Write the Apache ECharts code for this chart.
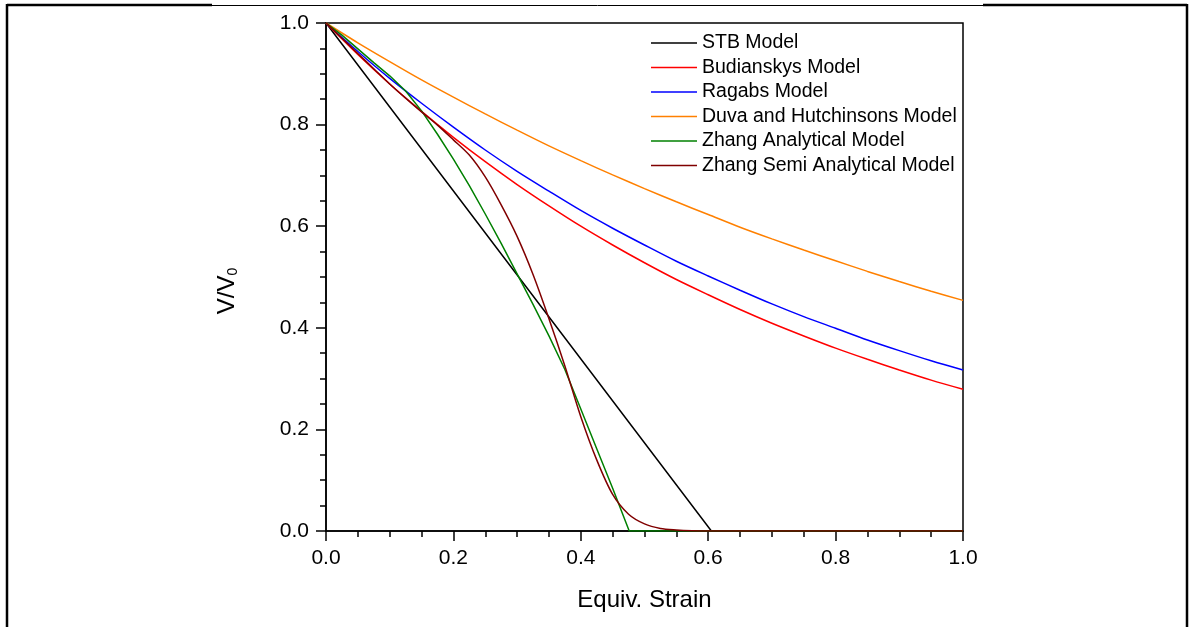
<!DOCTYPE html>
<html>
<head>
<meta charset="utf-8">
<title>V/V0 vs Equiv. Strain</title>
<script src="https://cdn.jsdelivr.net/npm/echarts@6/dist/echarts.min.js"></script>
<style>
  html, body { margin: 0; padding: 0; background: #ffffff; }
  #chart { width: 1189px; height: 627px; }
</style>
</head>
<body>
<div id="chart"></div>
<script>
// Volume fraction V/V0 versus equivalent strain for several models

const seriesNames = [
  'STB Model',
  'Budianskys Model',
  'Ragabs Model',
  'Duva and Hutchinsons Model',
  'Zhang Analytical Model',
  'Zhang Semi Analytical Model'
];

const seriesColors = ['#000000', '#ff0000', '#0000ff', '#ff8000', '#008000', '#800000'];

// STB model: straight drop to zero, then flat
const stbStrain = [0, 0.605, 1.0];
const stbV = [1, 0, 0];

// Common strain grid for the smooth decaying models
const strainGrid = [0, 0.05, 0.1, 0.15, 0.2, 0.25, 0.3, 0.35, 0.4, 0.45, 0.5,
                    0.55, 0.6, 0.65, 0.7, 0.75, 0.8, 0.85, 0.9, 0.95, 1.0];

const budianskyV = [1, 0.938, 0.880, 0.826, 0.775, 0.727, 0.682, 0.640, 0.600, 0.563, 0.528,
                    0.495, 0.465, 0.436, 0.409, 0.384, 0.360, 0.338, 0.317, 0.297, 0.279];

const ragabV = [1, 0.944, 0.891, 0.842, 0.795, 0.750, 0.708, 0.669, 0.631, 0.596, 0.563,
                0.531, 0.502, 0.474, 0.447, 0.422, 0.399, 0.376, 0.355, 0.335, 0.317];

const duvaV = [1, 0.961, 0.924, 0.888, 0.854, 0.821, 0.789, 0.758, 0.729, 0.701, 0.674,
               0.648, 0.623, 0.598, 0.575, 0.553, 0.532, 0.511, 0.491, 0.472, 0.454];

// Zhang analytical model
const zhangStrain = [0, 0.025, 0.05, 0.075, 0.1, 0.125, 0.15, 0.175, 0.2, 0.225, 0.25,
                     0.275, 0.3, 0.325, 0.35, 0.375, 0.4, 0.425, 0.45, 0.476, 1.0];
const zhangV = [1, 0.976, 0.949, 0.922, 0.896, 0.866, 0.827, 0.781, 0.732, 0.680, 0.624,
                0.566, 0.506, 0.446, 0.384, 0.318, 0.240, 0.162, 0.084, 0, 0];

// Zhang semi-analytical model
const zhangSemiStrain = [0, 0.025, 0.05, 0.075, 0.1, 0.125, 0.15, 0.175, 0.2, 0.225, 0.25,
                         0.275, 0.3, 0.325, 0.35, 0.375, 0.4, 0.425, 0.45, 0.475, 0.5,
                         0.525, 0.55, 0.575, 0.6, 1.0];
const zhangSemiV = [1, 0.970, 0.940, 0.910, 0.880, 0.852, 0.825, 0.799, 0.770, 0.740, 0.697,
                    0.642, 0.580, 0.505, 0.418, 0.325, 0.225, 0.140, 0.072, 0.033, 0.014,
                    0.005, 0.002, 0.0005, 0, 0];

function pairs(xs, ys) {
  return xs.map((x, i) => [x, ys[i]]);
}

const seriesData = [
  pairs(stbStrain, stbV),
  pairs(strainGrid, budianskyV),
  pairs(strainGrid, ragabV),
  pairs(strainGrid, duvaV),
  pairs(zhangStrain, zhangV),
  pairs(zhangSemiStrain, zhangSemiV)
];

// smoothing per series: straight segments for STB and the analytical model
const seriesSmooth = [false, 0.3, 0.3, 0.3, false, 0.3];

const FONT = "'Liberation Sans', Arial, Helvetica, sans-serif";

const chart = echarts.init(document.getElementById('chart'), null, { renderer: 'canvas' });

const axisCommon = {
  type: 'value',
  min: 0,
  max: 1,
  interval: 0.2,
  axisLine: { show: true, lineStyle: { color: '#000', width: 1.5 } },
  axisTick: { show: true, inside: false, length: 10, lineStyle: { color: '#000', width: 1.5 } },
  minorTick: { show: true, splitNumber: 4, length: 6, lineStyle: { color: '#000', width: 1.5 } },
  splitLine: { show: false },
  axisLabel: {
    color: '#000',
    fontFamily: FONT,
    fontSize: 21,
    margin: 17,
    formatter: v => v.toFixed(1)
  }
};

chart.setOption({
  animation: false,
  backgroundColor: '#ffffff',
  grid: {
    left: 326, right: 226, top: 23, bottom: 96,
    show: true, borderColor: '#000', borderWidth: 1.5, backgroundColor: 'transparent'
  },
  xAxis: Object.assign({}, axisCommon, {
    name: 'Equiv. Strain',
    nameLocation: 'middle',
    nameGap: 57,
    nameTextStyle: { color: '#000', fontFamily: FONT, fontSize: 24 }
  }),
  yAxis: Object.assign({}, axisCommon, {
    name: 'V/V{sub|0}',
    nameLocation: 'middle',
    nameGap: 86,
    nameTextStyle: {
      color: '#000', fontFamily: FONT, fontSize: 24,
      padding: [0, 28, 0, 0],
      rich: { sub: { fontFamily: FONT, fontSize: 14, verticalAlign: 'bottom', padding: [12, 0, 0, 0] } }
    }
  }),
  legend: {
    orient: 'vertical',
    left: 646,
    top: 28,
    itemWidth: 46,
    itemHeight: 14,
    itemGap: 4.5,
    icon: 'path://M0,6 L46,6 L46,7.6 L0,7.6 Z',
    data: seriesNames,
    textStyle: { color: '#000', fontFamily: FONT, fontSize: 19.5, lineHeight: 20 }
  },
  series: seriesNames.map((name, i) => ({
    name: name,
    type: 'line',
    data: seriesData[i],
    symbol: 'none',
    smooth: seriesSmooth[i],
    color: seriesColors[i],
    lineStyle: { color: seriesColors[i], width: 1.5 },
    z: 2 + i
  })),
  graphic: [
    // outer frame around the figure
    { type: 'line', shape: { x1: 7, y1: 5, x2: 212, y2: 5 }, style: { stroke: '#000', lineWidth: 2.5 } },
    { type: 'line', shape: { x1: 212, y1: 5.5, x2: 983, y2: 5.5 }, style: { stroke: '#000', lineWidth: 1 } },
    { type: 'line', shape: { x1: 983, y1: 5, x2: 1187, y2: 5 }, style: { stroke: '#000', lineWidth: 2.5 } },
    { type: 'line', shape: { x1: 7, y1: 4, x2: 7, y2: 627 }, style: { stroke: '#000', lineWidth: 2.5 } },
    { type: 'line', shape: { x1: 1187, y1: 4, x2: 1187, y2: 627 }, style: { stroke: '#000', lineWidth: 2.5 } }
  ]
});
</script>
</body>
</html>
